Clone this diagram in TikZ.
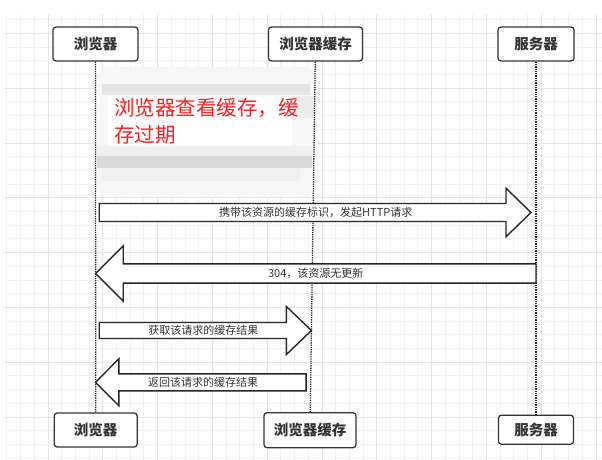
\documentclass[tikz,border=0pt]{standalone}
\usepackage{fontspec}
\newfontfamily\cjk{Noto Sans CJK SC}
\usetikzlibrary{calc,intersections}
\definecolor{gridminor}{RGB}{242,242,242}
\definecolor{gridmajor}{RGB}{228,228,228}
\definecolor{inkgray}{RGB}{51,51,51}
\definecolor{notered}{RGB}{250,32,32}
\tikzset{
  actor/.style={draw=inkgray, line width=1.3pt, rounded corners=3pt, fill=white,
    inner sep=0pt, minimum height=34pt, text=inkgray,
    font=\cjk\bfseries\fontsize{14.5}{16}\selectfont},
  lifeline/.style={densely dotted, line width=1.3pt, black!85},
  msg/.style={draw=black!85, line width=1.4pt, fill=white, line join=miter},
  msglabel/.style={font=\cjk\fontsize{11}{13}\selectfont, text=inkgray, inner sep=0pt},
  notetext/.style={font=\cjk\fontsize{20.5}{27}\selectfont, text=notered, align=left, inner sep=0pt},
}
% block arrow: tail, tip, body half height, head half height, head length
\newcommand\blockarrow[5]{%
  \coordinate (hb) at ($(#2)!#5pt!(#1)$);
  \draw[msg] ($(#1)+(0,-#3)$) -- ($(hb)+(0,-#3)$) -- ($(hb)+(0,-#4)$) -- (#2)
    -- ($(hb)+(0,#4)$) -- ($(hb)+(0,#3)$) -- ($(#1)+(0,#3)$) -- cycle;}

\begin{document}
\begin{tikzpicture}[x=1pt, y=-1pt]
    \useasboundingbox (0,0) rectangle (602,460);

    % background grid
    \foreach \i in {0,...,43} \draw[gridminor, line width=0.7pt] ({6.8+13.7*\i},14) -- ({6.8+13.7*\i},460);
    \foreach \j in {1,...,33} \draw[gridminor, line width=0.7pt] (5,{5.9+13.7*\j}) -- (602,{5.9+13.7*\j});
    \foreach \i in {0,...,10} \draw[gridmajor, line width=0.7pt] ({47.9+54.8*\i},14) -- ({47.9+54.8*\i},460);
    \foreach \j in {0,...,7} \draw[gridmajor, line width=0.7pt] (5,{33.3+54.8*\j}) -- (602,{33.3+54.8*\j});

    % blurred note
    \fill[gray!6, rounded corners=14pt] (95,67) rectangle (318,197);
    \fill[gray!20] (102,84) rectangle (310,95);
    \fill[white] (108,96) rectangle (292,148);
    \fill[gray!14] (292,96) rectangle (314,118);
    \fill[gray!12] (97,146) rectangle (314,156);
    \fill[gray!30] (97,156) rectangle (312,168);
    \fill[gray!12] (102,168) rectangle (300,181);
    \node[notetext, anchor=north west] (note) at (114,98) {浏览器查看缓存，缓\\存过期};

    % actors
    \node[actor, minimum width=85pt] (bt) at (95.5,44) {浏览器};
    \node[actor, minimum width=94pt] (ct) at (315.5,44) {浏览器缓存};
    \node[actor, minimum width=76pt] (st) at (536,44) {服务器};
    \node[actor, minimum width=83pt] (bb) at (95.7,430) {浏览器};
    \node[actor, minimum width=92pt, minimum height=35pt] (cb) at (310,430.2) {浏览器缓存};
    \node[actor, minimum width=75pt, minimum height=29pt] (sb) at (536,429.7) {服务器};

    \draw[lifeline] (bt) -- (bb);
    \draw[lifeline] (ct) -- (cb);
    \draw[lifeline] (st) -- (sb);

    % coordinates to be reused
    \coordinate (b1) at (bt.south |- 0,212.5);
    \coordinate (s1) at (st.south |- 0,212.5);
    \coordinate (b2) at (bt.south |- 0,273.5);
    \coordinate (s2) at (st.south |- 0,273.5);
    \coordinate (b3) at (bt.south |- 0,330.5);
    \coordinate (b4) at (bt.south |- 0,382.3);
    \path [name path=cacheline] (ct) -- (cb);
    \path [name path=row3] (0,330.5) -- (602,330.5);
    \path [name path=row4] (0,382.3) -- (602,382.3);
    \path [name intersections={of=cacheline and row3, by=c3}];
    \path [name intersections={of=cacheline and row4, by=c4}];
    \coordinate (t1) at ($(b1)+(3.7,0)$);
    \coordinate (p1) at ($(s1)+(-5,0)$);
    \coordinate (t3) at ($(b3)+(3.7,0)$);
    \coordinate (t4) at ($(c4)+(-4.5,0)$);

    % draw messages
    \blockarrow{t1}{p1}{9}{24.3}{25}
    \blockarrow{s2}{b2}{9.6}{27.5}{27.7}
    \blockarrow{t3}{c3}{8}{24}{25}
    \blockarrow{t4}{b4}{8.5}{23.4}{23.3}

    % add labels
    \node[msglabel] (l1) at ($(b1)!0.5!(s1)$) {携带该资源的缓存标识，发起HTTP请求};
    \node[msglabel] (l2) at ($(b2)!0.5!(s2)$) {304，该资源无更新};
    \node[msglabel] (l3) at ($(b3)!0.5!(c3)$) {获取该请求的缓存结果};
    \node[msglabel] (l4) at ($(b4)!0.5!(c4)$) {返回该请求的缓存结果};
\end{tikzpicture}
\end{document}
